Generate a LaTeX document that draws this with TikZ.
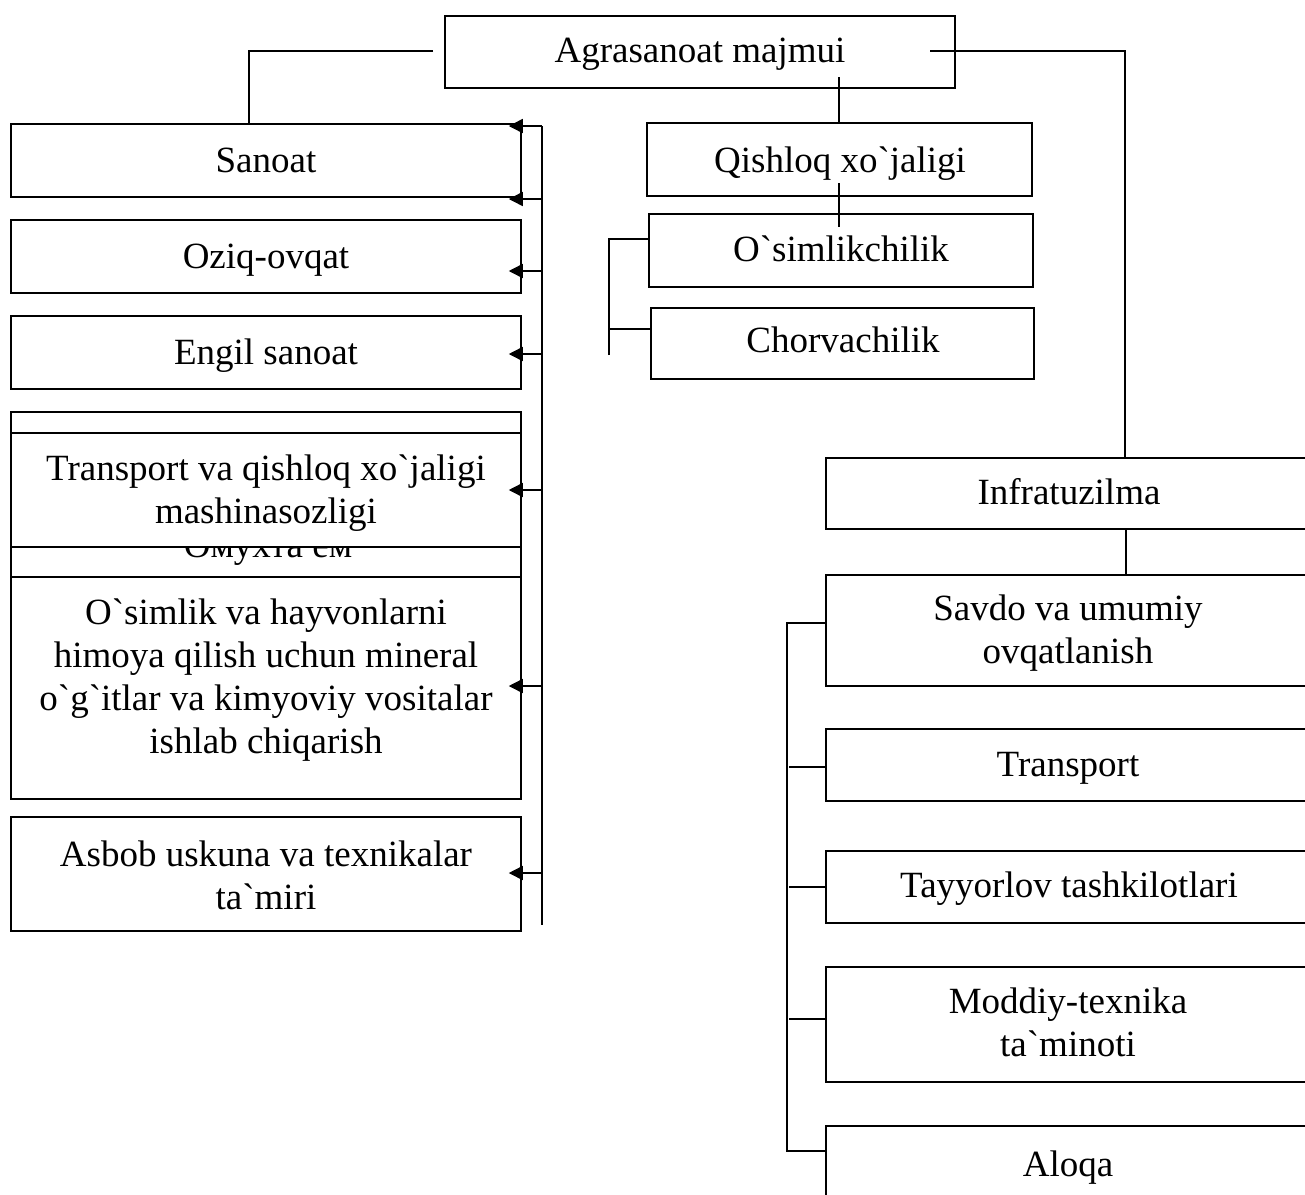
\documentclass[tikz,border=0pt]{standalone}
\usepackage{fontspec}
\newfontfamily\tnr{Liberation Serif}
\usetikzlibrary{arrows.meta}
\begin{document}
\begin{tikzpicture}[x=1pt,y=-1pt,
  box/.style={draw, line width=1.5pt, fill=white, rectangle, inner sep=0pt},
  txt/.style={inner sep=0pt, font=\tnr\fontsize{37}{43}\selectfont, align=center},
  btxt/.style={txt, anchor=base},
  conn/.style={line width=1.5pt},
  arr/.style={line width=1.5pt, -{Triangle[length=14pt,width=14pt]}, shorten >=-13pt}]
\useasboundingbox (0,0) rectangle (1305,1194);
\clip (0,0) rectangle (1305,1194);

% top
\node[box, minimum width=510pt, minimum height=72pt] (agra) at (700,52) {};
\node[btxt] (agra-t) at (700,62) {Agrasanoat majmui};

% left column
\node[box, minimum width=510pt, minimum height=73pt] (sanoat) at (266,160.5) {};
\node[btxt] (sanoat-t) at (266,172) {Sanoat};
\node[box, minimum width=510pt, minimum height=73pt] (oziq) at (266,256.5) {};
\node[btxt] (oziq-t) at (266,268) {Oziq-ovqat};
\node[box, minimum width=510pt, minimum height=73pt] (engil) at (266,352.5) {};
\node[btxt] (engil-t) at (266,364) {Engil sanoat};
\node[box, minimum width=510pt, minimum height=165pt] (hidden) at (266,494.5) {};
\node[btxt] (hidden-t) at (268,557) {Омухта ем};
\node[box, minimum width=510pt, minimum height=114pt] (transp) at (266,490) {};
\node[txt] (transp-t) at (266,493) {Transport va qishloq xo`jaligi\\mashinasozligi};
\node[box, minimum width=510pt, minimum height=222pt] (osim) at (266,688) {};
\node[txt] (osim-t) at (266,680) {O`simlik va hayvonlarni\\himoya qilish uchun mineral\\o`g`itlar va kimyoviy vositalar\\ishlab chiqarish};
\node[box, minimum width=510pt, minimum height=114pt] (asbob) at (266,874) {};
\node[txt] (asbob-t) at (266,875) {Asbob uskuna va texnikalar\\ta`miri};

% middle column
\node[box, minimum width=385pt, minimum height=73pt] (qish) at (839.5,159.5) {};
\node[btxt] (qish-t) at (840,172) {Qishloq xo`jaligi};
\node[box, minimum width=384pt, minimum height=73pt] (osimch) at (841,250.5) {};
\node[btxt] (osimch-t) at (841,261) {O`simlikchilik};
\node[box, minimum width=383pt, minimum height=71pt] (chorv) at (842.5,343.5) {};
\node[btxt] (chorv-t) at (843,352) {Chorvachilik};

% right column
\node[box, minimum width=484pt, minimum height=71pt] (infra) at (1068,493.5) {};
\node[btxt] (infra-t) at (1069,504) {Infratuzilma};
\node[box, minimum width=484pt, minimum height=111pt] (savdo) at (1068,630.5) {};
\node[txt] (savdo-t) at (1068,633) {Savdo va umumiy\\ovqatlanish};
\node[box, minimum width=484pt, minimum height=72pt] (rtrans) at (1068,765) {};
\node[btxt] (rtrans-t) at (1068,776) {Transport};
\node[box, minimum width=484pt, minimum height=72pt] (tayy) at (1068,887) {};
\node[btxt] (tayy-t) at (1069,897) {Tayyorlov tashkilotlari};
\node[box, minimum width=484pt, minimum height=115pt] (moddiy) at (1068,1024.5) {};
\node[txt] (moddiy-t) at (1068,1022) {Moddiy-texnika\\ta`minoti};
\node[box, minimum width=484pt, minimum height=72pt] (aloqa) at (1068,1162) {};
\node[btxt] (aloqa-t) at (1068,1176) {Aloqa};

% connectors from the top box
\coordinate (aL) at (433,51);
\coordinate (aR) at (930,51);
\coordinate (aD) at (839,77);
\draw[conn] (aL) -| ([xshift=-17pt]sanoat.north);
\draw[conn] (aR) -| ([xshift=57pt]infra.north);
\draw[conn] (aD) -- (aD |- qish.north);

% qishloq branch
\coordinate (q1) at (839,183);
\coordinate (q2) at (839,227);
\draw[conn] (q1) -- (q2);
\coordinate (bk) at (609,355);
\coordinate (bkT) at (609,239);
\coordinate (bkM) at (609,329);
\draw[conn] (bk) -- (bkT) -- (bkT -| osimch.west);
\draw[conn] (bkM) -- (bkM -| chorv.west);

% left bus with arrows
\coordinate (b1) at (542,126);
\coordinate (b2) at (542,199);
\coordinate (b3) at (542,271);
\coordinate (b4) at (542,354);
\coordinate (b5) at (542,490);
\coordinate (b6) at (542,686);
\coordinate (b7) at (542,873);
\coordinate (bEnd) at (542,925);
\draw[conn] (b1) -- (bEnd);
\draw[arr] (b1) -- (b1 -| sanoat.east);
\draw[arr] (b2) -- (b2 -| sanoat.east);
\draw[arr] (b3) -- (b3 -| oziq.east);
\draw[arr] (b4) -- (b4 -| engil.east);
\draw[arr] (b5) -- (b5 -| transp.east);
\draw[arr] (b6) -- (b6 -| osim.east);
\draw[arr] (b7) -- (b7 -| asbob.east);

% right branch
\draw[conn] ([xshift=58pt]infra.south) -- ([xshift=58pt]savdo.north);
\coordinate (rT) at (787,623);
\coordinate (rB) at (787,1151);
\coordinate (r2) at (789,767);
\coordinate (r3) at (789,887);
\coordinate (r4) at (789,1019);
\draw[conn] (rT -| savdo.west) -- (rT) -- (rB) -- (rB -| aloqa.west);
\draw[conn] (r2) -- ([xshift=2pt]r2 -| rtrans.west);
\draw[conn] (r3) -- ([xshift=2pt]r3 -| tayy.west);
\draw[conn] (r4) -- ([xshift=2pt]r4 -| moddiy.west);
\end{tikzpicture}
\end{document}
